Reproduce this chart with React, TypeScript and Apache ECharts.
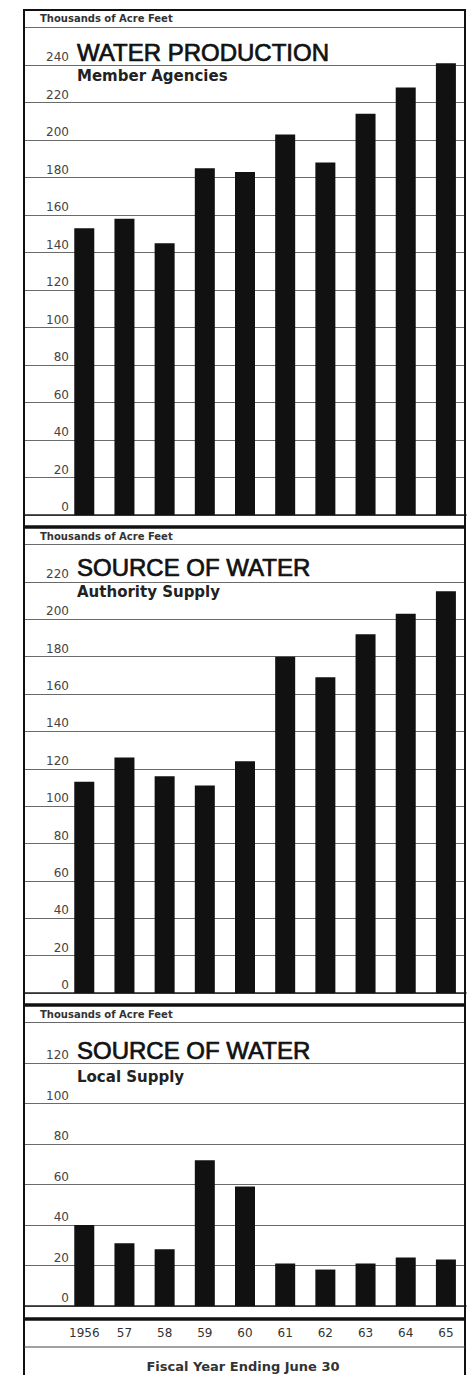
import React, { useEffect, useRef } from 'react';
import * as echarts from 'echarts';

// Fiscal years (ending June 30)
const years = ['1956', '57', '58', '59', '60', '61', '62', '63', '64', '65'];
// Thousands of acre feet
const production = [153, 158, 145, 185, 183, 203, 188, 214, 228, 241];
const authority = [113, 126, 116, 111, 124, 180, 169, 192, 203, 215];
const local = [40, 31, 28, 72, 59, 21, 18, 21, 24, 23];

const panelMax = [260, 240, 140];
const tickStep = 20;
const unitLabel = 'Thousands of Acre Feet';
const titles = ['WATER PRODUCTION', 'SOURCE OF WATER', 'SOURCE OF WATER'];
const subtitles = ['Member Agencies', 'Authority Supply', 'Local Supply'];
const xAxisTitle = 'Fiscal Year Ending June 30';

export default function App() {
  const ref = useRef<HTMLDivElement>(null);
  useEffect(() => {
    const chart = echarts.init(ref.current!, null, { renderer: 'svg' });
    const cats = ['', ...years];
    const seriesData = [production, authority, local];
    const grids = [
      { left: 24, top: 27.5, width: 442, height: 487.5 },
      { left: 24, top: 544.5, width: 442, height: 448.5 },
      { left: 24, top: 1022.5, width: 442, height: 283.5 },
    ];
    const font = 'DejaVu Sans';
    const option: any = {
      animation: false,
      backgroundColor: '#ffffff',
      grid: grids,
      xAxis: grids.map((_, i) => ({
        type: 'category',
        gridIndex: i,
        data: cats,
        boundaryGap: true,
        axisTick: { show: false },
        axisLine: { show: true, lineStyle: { color: '#222', width: 1.5 } },
        axisLabel: {
          show: i === 2,
          interval: 0,
          margin: 21,
          fontSize: 12,
          fontFamily: font,
          color: '#333',
        },
        splitLine: { show: false },
      })),
      yAxis: grids.map((_, i) => ({
        type: 'value',
        gridIndex: i,
        min: 0,
        max: panelMax[i],
        interval: tickStep,
        axisLine: { show: false },
        axisTick: { show: false },
        splitLine: { show: true, lineStyle: { color: '#6a6a6a', width: 1.2 } },
        axisLabel: {
          inside: true,
          align: 'right',
          verticalAlign: 'bottom',
          margin: 45,
          padding: [0, 0, 2, 0],
          fontSize: 12,
          fontFamily: font,
          color: '#444',
          formatter: (v: number) => (v >= panelMax[i] ? '' : String(v)),
        },
      })),
      series: seriesData.map((d, i) => ({
        type: 'bar',
        xAxisIndex: i,
        yAxisIndex: i,
        barWidth: 20,
        itemStyle: { color: '#111' },
        data: ['-', ...d],
      })),
      graphic: [
        {
          type: 'rect',
          z: 100,
          shape: { x: 24, y: 10, width: 441, height: 1380 },
          style: { fill: 'none', stroke: '#111', lineWidth: 2 },
        },
        ...[527, 1005, 1319].map((y) => ({
          type: 'line',
          z: 100,
          shape: { x1: 24, y1: y, x2: 465, y2: y },
          style: { stroke: '#111', lineWidth: 3.5 },
        })),
        {
          type: 'line',
          z: 100,
          shape: { x1: 24, y1: 1347, x2: 465, y2: 1347 },
          style: { stroke: '#444', lineWidth: 1.2 },
        },
        ...[18, 536, 1014].map((y) => ({
          type: 'text',
          z: 100,
          style: {
            text: unitLabel,
            x: 40,
            y,
            font: `bold 10px "${font}"`,
            fill: '#333',
            verticalAlign: 'middle',
            textVerticalAlign: 'middle',
          },
        })),
        ...[52, 567, 1050].map((y, i) => ({
          type: 'text',
          z: 100,
          style: {
            text: titles[i],
            x: 77,
            y,
            font: 'normal 24px "Liberation Sans"',
            fill: '#111',
            stroke: '#111',
            lineWidth: 0.7,
            verticalAlign: 'middle',
            textVerticalAlign: 'middle',
          },
        })),
        ...[76, 592, 1077].map((y, i) => ({
          type: 'text',
          z: 100,
          style: {
            text: subtitles[i],
            x: 77,
            y,
            font: `bold 15px "${font}"`,
            fill: '#222',
            verticalAlign: 'middle',
            textVerticalAlign: 'middle',
          },
        })),
        {
          type: 'text',
          z: 100,
          style: {
            text: xAxisTitle,
            x: 243,
            y: 1366,
            font: `bold 13px "${font}"`,
            fill: '#333',
            align: 'center',
            textAlign: 'center',
            verticalAlign: 'middle',
            textVerticalAlign: 'middle',
          },
        },
      ],
    };
    chart.setOption(option);
    return () => chart.dispose();
  }, []);
  return (
    <div
      ref={ref}
      style={{ position: 'absolute', left: 0, top: 0, width: 470, height: 1375, background: '#fff' }}
    />
  );
}
